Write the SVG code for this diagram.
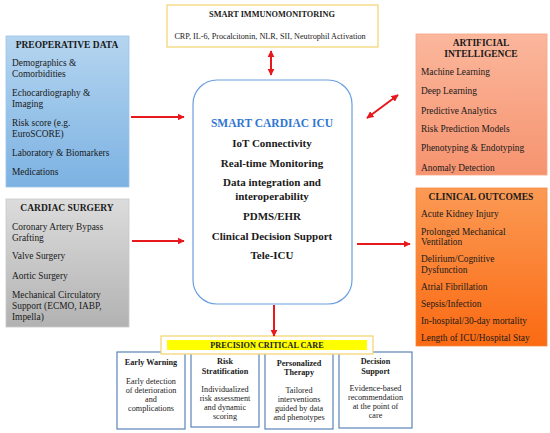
<svg xmlns="http://www.w3.org/2000/svg" width="550" height="433" viewBox="0 0 550 433">
<defs>
<linearGradient id="gBlue" x1="0" y1="0" x2="0" y2="1"><stop offset="0" stop-color="#b5d5f0"/><stop offset="1" stop-color="#7cb2e2"/></linearGradient>
<linearGradient id="gGray" x1="0" y1="0" x2="0" y2="1"><stop offset="0" stop-color="#dcdcdc"/><stop offset="1" stop-color="#b2b2b2"/></linearGradient>
<linearGradient id="gSalmon" x1="0" y1="0" x2="0" y2="1"><stop offset="0" stop-color="#fbb79c"/><stop offset="1" stop-color="#f6936f"/></linearGradient>
<linearGradient id="gOrange" x1="0" y1="0" x2="0" y2="1"><stop offset="0" stop-color="#fb9a55"/><stop offset="1" stop-color="#fb6a12"/></linearGradient>
<marker id="ah" viewBox="0 0 10 10" refX="9" refY="5" markerWidth="3.6" markerHeight="3.6" orient="auto-start-reverse"><path d="M0,0 L10,5 L0,10 z" fill="#e8191c"/></marker>
<style>
text{font-family:"Liberation Serif","Times New Roman",serif;fill:#1a1a1a}
.t{font-weight:bold;font-size:9.5px;text-anchor:middle}
.i{font-size:9.4px}
.c{font-weight:bold;font-size:11px;text-anchor:middle}
.bh{font-weight:bold;font-size:8.2px;text-anchor:middle}
.bb{font-size:8.2px;text-anchor:middle}
.arr{stroke:#e8191c;stroke-width:2;fill:none;marker-end:url(#ah)}
.dbl{stroke:#e8191c;stroke-width:2;fill:none;marker-end:url(#ah);marker-start:url(#ah)}
.pb{fill:#ffffff;stroke:#5a84b8;stroke-width:1.2}
</style>
</defs>

<g id="immuno">
<rect x="167" y="5" width="211" height="42" fill="#ffffff" stroke="#f6d26e" stroke-width="1.2"/>
<text class="t" x="272" y="17" style="font-size:8.3px">SMART IMMUNOMONITORING</text>
<text x="270" y="39" style="font-size:8.2px;text-anchor:middle">CRP, IL-6, Procalcitonin, NLR, SII, Neutrophil Activation</text>
</g>

<g id="preop">
<rect x="6" y="36" width="123" height="151" fill="url(#gBlue)" stroke="#9cc4e8" stroke-width="0.8"/>
<text class="t" x="67" y="47.5">PREOPERATIVE DATA</text>
<text class="i" x="12" y="66">Demographics &amp;</text>
<text class="i" x="12" y="77">Comorbidities</text>
<text class="i" x="12" y="96">Echocardiography &amp;</text>
<text class="i" x="12" y="107">Imaging</text>
<text class="i" x="12" y="126">Risk score (e.g.</text>
<text class="i" x="12" y="137">EuroSCORE)</text>
<text class="i" x="12" y="156">Laboratory &amp; Biomarkers</text>
<text class="i" x="12" y="175">Medications</text>
</g>

<g id="surgery">
<rect x="6" y="199" width="123" height="128" fill="url(#gGray)" stroke="#c8c8c8" stroke-width="0.8"/>
<text class="t" x="67" y="211">CARDIAC SURGERY</text>
<text class="i" x="12" y="230">Coronary Artery Bypass</text>
<text class="i" x="12" y="241">Grafting</text>
<text class="i" x="12" y="259">Valve Surgery</text>
<text class="i" x="12" y="279">Aortic Surgery</text>
<text class="i" x="12" y="298">Mechanical Circulatory</text>
<text class="i" x="12" y="309">Support (ECMO, IABP,</text>
<text class="i" x="12" y="320">Impella)</text>
</g>

<g id="icu">
<rect x="193" y="80" width="159" height="224" rx="24" ry="24" fill="#ffffff" stroke="#6a9fe0" stroke-width="1.2"/>
<text class="c" x="272" y="126.5" style="fill:#2f76d2;font-size:11.5px">SMART CARDIAC ICU</text>
<text class="c" x="272" y="146.5">IoT Connectivity</text>
<text class="c" x="272" y="166.5">Real-time Monitoring</text>
<text class="c" x="272" y="185.5">Data integration and</text>
<text class="c" x="272" y="199.5">interoperability</text>
<text class="c" x="272" y="219.5">PDMS/EHR</text>
<text class="c" x="272" y="239.5">Clinical Decision Support</text>
<text class="c" x="272" y="258.5">Tele-ICU</text>
</g>

<g id="ai">
<rect x="416" y="34" width="131" height="141" fill="url(#gSalmon)" stroke="#f7a585" stroke-width="0.8"/>
<text class="t" x="481" y="46">ARTIFICIAL</text>
<text class="t" x="481" y="56.5">INTELLIGENCE</text>
<text class="i" x="421" y="75">Machine Learning</text>
<text class="i" x="421" y="94">Deep Learning</text>
<text class="i" x="421" y="114">Predictive Analytics</text>
<text class="i" x="421" y="132">Risk Prediction Models</text>
<text class="i" x="421" y="151">Phenotyping &amp; Endotyping</text>
<text class="i" x="421" y="171">Anomaly Detection</text>
</g>

<g id="outcomes">
<rect x="416" y="188" width="131" height="158" fill="url(#gOrange)" stroke="#f58a40" stroke-width="0.8"/>
<text class="t" x="481" y="200">CLINICAL OUTCOMES</text>
<text class="i" x="421" y="217">Acute Kidney Injury</text>
<text class="i" x="421" y="234.5">Prolonged Mechanical</text>
<text class="i" x="421" y="244.5">Ventilation</text>
<text class="i" x="421" y="262">Delirium/Cognitive</text>
<text class="i" x="421" y="272.5">Dysfunction</text>
<text class="i" x="421" y="290">Atrial Fibrillation</text>
<text class="i" x="421" y="307">Sepsis/Infection</text>
<text class="i" x="421" y="324">In-hospital/30-day mortality</text>
<text class="i" x="421" y="341">Length of ICU/Hospital Stay</text>
</g>

<g id="card-early">
<rect class="pb" x="117" y="352" width="68" height="77"/>
<text class="bh" x="151" y="365">Early Warning</text>
<text class="bb" x="151" y="383.5">Early detection</text>
<text class="bb" x="151" y="392.5">of deterioration</text>
<text class="bb" x="151" y="401.5">and</text>
<text class="bb" x="151" y="410.5">complications</text>
</g>
<g id="card-risk">
<rect class="pb" x="191" y="352" width="68" height="75"/>
<text class="bh" x="225" y="363.5">Risk</text>
<text class="bh" x="225" y="373.5">Stratification</text>
<text class="bb" x="225" y="391.5">Individualized</text>
<text class="bb" x="225" y="400.5">risk assessment</text>
<text class="bb" x="225" y="409.5">and dynamic</text>
<text class="bb" x="225" y="419">scoring</text>
</g>
<g id="card-therapy">
<rect class="pb" x="265" y="352" width="68" height="77"/>
<text class="bh" x="299" y="365.5">Personalized</text>
<text class="bh" x="299" y="375">Therapy</text>
<text class="bb" x="299" y="392.5">Tailored</text>
<text class="bb" x="299" y="401.5">interventions</text>
<text class="bb" x="299" y="410.5">guided by data</text>
<text class="bb" x="299" y="419.5">and phenotypes</text>
</g>
<g id="card-decision">
<rect class="pb" x="339" y="352" width="73" height="76"/>
<text class="bh" x="375.5" y="363.5">Decision</text>
<text class="bh" x="375.5" y="373.5">Support</text>
<text class="bb" x="375.5" y="390.5">Evidence-based</text>
<text class="bb" x="375.5" y="399.5">recommendation</text>
<text class="bb" x="375.5" y="408.5">at the point of</text>
<text class="bb" x="375.5" y="417.5">care</text>
</g>

<g id="precision">
<rect x="161" y="336" width="212" height="18" fill="#ffffff" stroke="#f6d26e" stroke-width="1.2"/>
<rect x="167" y="340" width="200" height="10" fill="#ffff00"/>
<text class="bh" x="267" y="348">PRECISION CRITICAL CARE</text>
</g>

<g id="connectors">
<line class="dbl" x1="271" y1="51" x2="271" y2="75"/>
<line class="arr" x1="131" y1="117" x2="184" y2="117"/>
<line class="arr" x1="132" y1="241" x2="184" y2="241"/>
<line class="dbl" x1="367" y1="118" x2="398" y2="95"/>
<line class="arr" x1="357" y1="244" x2="410" y2="244"/>
<line class="arr" x1="274" y1="305" x2="274" y2="336"/>
</g>
</svg>
